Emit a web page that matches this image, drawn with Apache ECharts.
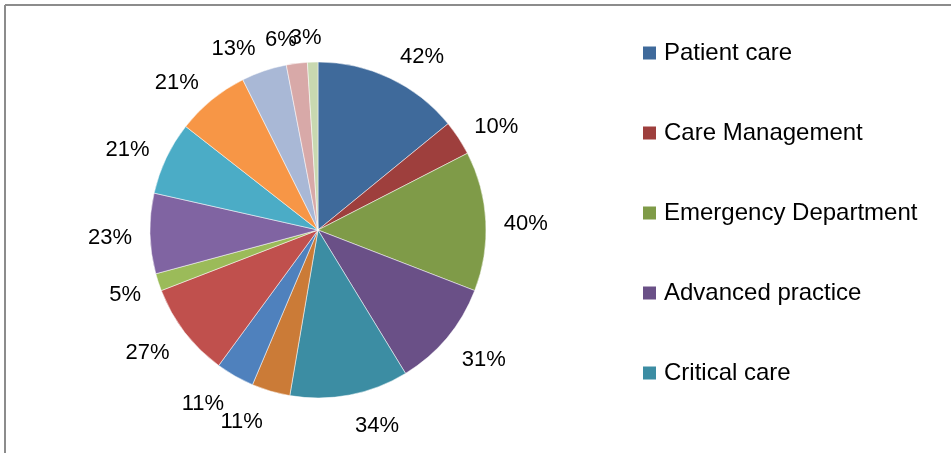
<!DOCTYPE html>
<html>
<head>
<meta charset="utf-8">
<script src="https://cdn.jsdelivr.net/npm/echarts@6/dist/echarts.min.js"></script>
<style>html,body{margin:0;padding:0;background:#fff}#c{width:951px;height:453px}</style>
</head>
<body>
<div id="c"></div>
<script>
const categories = ["Patient care","Care Management","Emergency Department","Advanced practice","Critical care",
  "Slice 6","Slice 7","Slice 8","Slice 9","Slice 10","Slice 11","Slice 12","Slice 13","Slice 14","Slice 15"];
const values = [42,10,40,31,34,11,11,27,5,23,21,21,13,6,3];
const legendItems = ["Patient care","Care Management","Emergency Department","Advanced practice","Critical care"];
const colors = ["#3F6A9B","#9E3F3D","#7F9B48","#6A5087","#3C8DA3","#CB7B37","#4F81BD","#C0504D","#9BBB59","#8064A2","#4BACC6","#F79646","#A9B8D6","#D8A9A8","#C8D8B0"];

const FONT = "'Liberation Sans', Arial, sans-serif";
const chart = echarts.init(document.getElementById('c'));
chart.setOption({
  animation:false,
  color: colors,
  graphic:[
    {type:'line',shape:{x1:5,y1:5,x2:951,y2:5},style:{stroke:'#8c8c8c',lineWidth:2}},
    {type:'line',shape:{x1:5,y1:5,x2:5,y2:453},style:{stroke:'#8c8c8c',lineWidth:2}}
  ],
  legend:{
    data: legendItems, orient:'vertical', left:636, top:36, itemGap:56,
    itemWidth:15, itemHeight:15, icon:'rect',
    textStyle:{fontFamily:FONT,fontSize:24,lineHeight:24,color:'#000',padding:[0,0,0,2]}
  },
  series:[{
    type:'pie', center:[318,230], radius:168, startAngle:90, clockwise:true,
    avoidLabelOverlap:false,
    data: categories.map((n,i)=>({name:n,value:values[i]})),
    itemStyle:{borderColor:'#fff',borderWidth:0.5},
    label:{show:true,position:'outside',formatter:p=>p.value+'%',fontFamily:FONT,fontSize:22,color:'#000',distanceToLabelLine:4},
    labelLine:{show:true,length:14,length2:0,lineStyle:{opacity:0}},
    labelLayout:function(params){
      const p = params.labelLinePoints;
      if(!p) return {hideOverlap:false};
      const ux = p[1][0]-p[0][0], uy = p[1][1]-p[0][1];
      const n = Math.hypot(ux,uy)||1;
      const nx = ux/n, ny = uy/n;
      const h = params.labelRect.height, w = params.labelRect.width;
      const f = Math.max(0, 1 - Math.abs(nx)/0.2);
      return {hideOverlap:false, dy: ny*h/2*1.25 + 4, dx: (nx<0?1:-1)*w/2*f};
    }
  }]
});
</script>
</body>
</html>
